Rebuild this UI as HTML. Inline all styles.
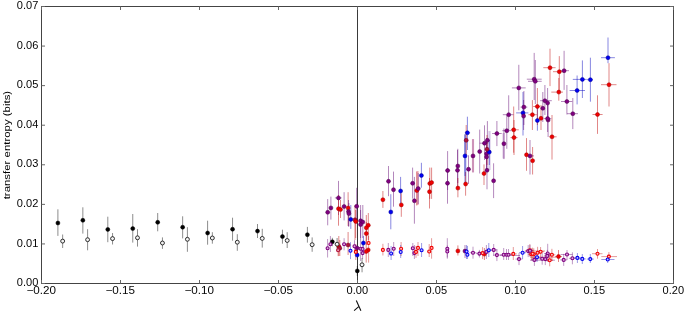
<!DOCTYPE html>
<html><head><meta charset="utf-8"><style>
html,body{margin:0;padding:0;background:#fff;}
body{width:685px;height:313px;overflow:hidden;}
svg{display:block;will-change:transform;}
text{font-family:"Liberation Sans",sans-serif;}
</style></head><body>
<svg width="685" height="313" viewBox="0 0 685 313">
<rect x="0" y="0" width="685" height="313" fill="#fff"/>
<line x1="357.5" y1="6.5" x2="357.5" y2="283.5" stroke="#3a3a3a" stroke-width="1"/>
<line x1="465.3" y1="134.0" x2="465.3" y2="183.0" stroke="#b0b0e8" stroke-width="2.2"/>
<line x1="473.0" y1="139.0" x2="473.0" y2="172.4" stroke="#f0c0d0" stroke-width="2.2"/>
<line x1="489.5" y1="131.0" x2="489.5" y2="170.0" stroke="#d8c8e8" stroke-width="2.2"/>
<line x1="503.6" y1="133.0" x2="503.6" y2="158.5" stroke="#d8c0e0" stroke-width="2.2"/>
<line x1="417.6" y1="171.0" x2="417.6" y2="205.0" stroke="#f0b8c0" stroke-width="2.2"/>
<line x1="530" y1="257.2" x2="556" y2="257.2" stroke="#c00000" stroke-opacity="0.4"/>
<line x1="530" y1="260.2" x2="555" y2="260.2" stroke="#600070" stroke-opacity="0.4"/>
<line x1="525" y1="251.0" x2="545" y2="251.0" stroke="#c00000" stroke-opacity="0.4"/>
<line x1="500" y1="255.5" x2="520" y2="255.5" stroke="#600070" stroke-opacity="0.4"/>
<g stroke-width="1" opacity="1" style="mix-blend-mode:normal">
<line x1="57.9" y1="209.3" x2="57.9" y2="235.9" stroke="#000000" stroke-opacity="0.45"/>
<line x1="82.85" y1="207.3" x2="82.85" y2="233.6" stroke="#000000" stroke-opacity="0.45"/>
<line x1="107.8" y1="216.7" x2="107.8" y2="242.2" stroke="#000000" stroke-opacity="0.45"/>
<line x1="132.75" y1="214" x2="132.75" y2="242.6" stroke="#000000" stroke-opacity="0.45"/>
<line x1="157.7" y1="213" x2="157.7" y2="231.3" stroke="#000000" stroke-opacity="0.45"/>
<line x1="182.65" y1="216.3" x2="182.65" y2="238.4" stroke="#000000" stroke-opacity="0.45"/>
<line x1="207.6" y1="220.7" x2="207.6" y2="244.7" stroke="#000000" stroke-opacity="0.45"/>
<line x1="232.55" y1="217.7" x2="232.55" y2="240.7" stroke="#000000" stroke-opacity="0.45"/>
<line x1="257.5" y1="224" x2="257.5" y2="238" stroke="#000000" stroke-opacity="0.45"/>
<line x1="282.45" y1="229.7" x2="282.45" y2="243.7" stroke="#000000" stroke-opacity="0.45"/>
<line x1="307.4" y1="226.9" x2="307.4" y2="242.6" stroke="#000000" stroke-opacity="0.45"/>
<line x1="332.35" y1="237.8" x2="332.35" y2="246.2" stroke="#000000" stroke-opacity="0.45"/>
<line x1="357.3" y1="266" x2="357.3" y2="276" stroke="#000000" stroke-opacity="0.45"/>
<line x1="327.7" y1="199.1" x2="327.7" y2="225.3" stroke="#600070" stroke-opacity="0.47"/>
<line x1="330.9" y1="196.6" x2="330.9" y2="219.6" stroke="#600070" stroke-opacity="0.47"/>
<line x1="338.5" y1="180.9" x2="338.5" y2="215" stroke="#600070" stroke-opacity="0.47"/>
<line x1="334.9" y1="197.9" x2="341.7" y2="197.9" stroke="#600070" stroke-opacity="0.47"/>
<line x1="338.5" y1="195" x2="338.5" y2="225.7" stroke="#c00000" stroke-opacity="0.47"/>
<line x1="340.5" y1="200" x2="340.5" y2="218" stroke="#c00000" stroke-opacity="0.47"/>
<line x1="344.1" y1="192.2" x2="344.1" y2="220.4" stroke="#600070" stroke-opacity="0.47"/>
<line x1="348.1" y1="192.2" x2="348.1" y2="226" stroke="#c00000" stroke-opacity="0.47"/>
<line x1="348.5" y1="200" x2="348.5" y2="226.5" stroke="#600070" stroke-opacity="0.47"/>
<line x1="348.9" y1="203" x2="348.9" y2="226.5" stroke="#600070" stroke-opacity="0.47"/>
<line x1="350.8" y1="205" x2="350.8" y2="228.9" stroke="#0000c0" stroke-opacity="0.47"/>
<line x1="355" y1="205" x2="355" y2="240" stroke="#c00000" stroke-opacity="0.47"/>
<line x1="355.7" y1="210" x2="355.7" y2="238" stroke="#c00000" stroke-opacity="0.47"/>
<line x1="356.7" y1="187.8" x2="356.7" y2="224" stroke="#600070" stroke-opacity="0.47"/>
<line x1="360.6" y1="205" x2="360.6" y2="238" stroke="#600070" stroke-opacity="0.47"/>
<line x1="362.8" y1="205" x2="362.8" y2="238" stroke="#600070" stroke-opacity="0.47"/>
<line x1="360.6" y1="210" x2="360.6" y2="240" stroke="#600070" stroke-opacity="0.47"/>
<line x1="368.3" y1="213" x2="368.3" y2="240" stroke="#c00000" stroke-opacity="0.47"/>
<line x1="366.3" y1="215" x2="366.3" y2="240" stroke="#c00000" stroke-opacity="0.47"/>
<line x1="366.3" y1="222" x2="366.3" y2="245" stroke="#c00000" stroke-opacity="0.47"/>
<line x1="382.9" y1="191" x2="382.9" y2="207.9" stroke="#c00000" stroke-opacity="0.47"/>
<line x1="388.5" y1="166" x2="388.5" y2="196.2" stroke="#600070" stroke-opacity="0.47"/>
<line x1="393.5" y1="171.6" x2="393.5" y2="206.7" stroke="#600070" stroke-opacity="0.47"/>
<line x1="400.6" y1="176.9" x2="400.6" y2="204.3" stroke="#0000c0" stroke-opacity="0.47"/>
<line x1="401.3" y1="193.3" x2="401.3" y2="216.8" stroke="#c00000" stroke-opacity="0.47"/>
<line x1="390.8" y1="194.2" x2="390.8" y2="229.3" stroke="#0000c0" stroke-opacity="0.47"/>
<line x1="412.6" y1="167.6" x2="412.6" y2="198.7" stroke="#600070" stroke-opacity="0.47"/>
<line x1="414.4" y1="176.9" x2="414.4" y2="223.7" stroke="#600070" stroke-opacity="0.47"/>
<line x1="416.8" y1="171.6" x2="416.8" y2="205.5" stroke="#c00000" stroke-opacity="0.47"/>
<line x1="418.2" y1="173" x2="418.2" y2="204" stroke="#600070" stroke-opacity="0.47"/>
<line x1="421.4" y1="162.8" x2="421.4" y2="187.7" stroke="#0000c0" stroke-opacity="0.47"/>
<line x1="429.8" y1="167.6" x2="429.8" y2="198.9" stroke="#c00000" stroke-opacity="0.47"/>
<line x1="431.6" y1="167.6" x2="431.6" y2="198.9" stroke="#c00000" stroke-opacity="0.47"/>
<line x1="429.5" y1="178" x2="429.5" y2="208.5" stroke="#c00000" stroke-opacity="0.47"/>
<line x1="447.6" y1="151.1" x2="447.6" y2="190" stroke="#600070" stroke-opacity="0.47"/>
<line x1="445.6" y1="170.5" x2="450.1" y2="170.5" stroke="#600070" stroke-opacity="0.47"/>
<line x1="447.5" y1="168" x2="447.5" y2="203.7" stroke="#600070" stroke-opacity="0.47"/>
<line x1="457.8" y1="148.8" x2="457.8" y2="183" stroke="#600070" stroke-opacity="0.47"/>
<line x1="457.5" y1="150" x2="457.5" y2="188" stroke="#600070" stroke-opacity="0.47"/>
<line x1="457.9" y1="178" x2="457.9" y2="197.3" stroke="#c00000" stroke-opacity="0.47"/>
<line x1="465.6" y1="172" x2="465.6" y2="195.7" stroke="#c00000" stroke-opacity="0.47"/>
<line x1="465" y1="134.9" x2="465" y2="176" stroke="#0000c0" stroke-opacity="0.47"/>
<line x1="468.5" y1="155.3" x2="468.5" y2="184" stroke="#600070" stroke-opacity="0.47"/>
<line x1="473" y1="139.2" x2="473" y2="172.4" stroke="#600070" stroke-opacity="0.47"/>
<line x1="479.7" y1="129.6" x2="479.7" y2="173.5" stroke="#600070" stroke-opacity="0.47"/>
<line x1="484" y1="164.4" x2="484" y2="185" stroke="#c00000" stroke-opacity="0.47"/>
<line x1="486.6" y1="138" x2="486.6" y2="170" stroke="#600070" stroke-opacity="0.47"/>
<line x1="486.6" y1="140" x2="486.6" y2="172" stroke="#600070" stroke-opacity="0.47"/>
<line x1="489.3" y1="140" x2="489.3" y2="165" stroke="#0000c0" stroke-opacity="0.47"/>
<line x1="487" y1="150" x2="487" y2="189.3" stroke="#600070" stroke-opacity="0.47"/>
<line x1="493.6" y1="163.3" x2="493.6" y2="198.1" stroke="#600070" stroke-opacity="0.47"/>
<line x1="467.4" y1="116.7" x2="467.4" y2="150" stroke="#0000c0" stroke-opacity="0.47"/>
<line x1="464.8" y1="132.8" x2="470.1" y2="132.8" stroke="#0000c0" stroke-opacity="0.47"/>
<line x1="466.2" y1="125" x2="466.2" y2="155" stroke="#c00000" stroke-opacity="0.47"/>
<line x1="484.5" y1="125.3" x2="484.5" y2="160" stroke="#600070" stroke-opacity="0.47"/>
<line x1="479.7" y1="143.2" x2="488.2" y2="143.2" stroke="#600070" stroke-opacity="0.47"/>
<line x1="487.4" y1="121.1" x2="487.4" y2="158" stroke="#600070" stroke-opacity="0.47"/>
<line x1="487" y1="135" x2="487" y2="165" stroke="#c00000" stroke-opacity="0.47"/>
<line x1="496.9" y1="121" x2="496.9" y2="146.1" stroke="#600070" stroke-opacity="0.47"/>
<line x1="492.1" y1="133.5" x2="501.7" y2="133.5" stroke="#600070" stroke-opacity="0.47"/>
<line x1="506.8" y1="115" x2="506.8" y2="148.8" stroke="#600070" stroke-opacity="0.47"/>
<line x1="502.3" y1="130.7" x2="511.3" y2="130.7" stroke="#600070" stroke-opacity="0.47"/>
<line x1="503.9" y1="128.5" x2="503.9" y2="159.1" stroke="#600070" stroke-opacity="0.47"/>
<line x1="513.7" y1="106.5" x2="513.7" y2="152.7" stroke="#c00000" stroke-opacity="0.47"/>
<line x1="510.8" y1="129.8" x2="518.8" y2="129.8" stroke="#c00000" stroke-opacity="0.47"/>
<line x1="514" y1="120" x2="514" y2="155" stroke="#c00000" stroke-opacity="0.47"/>
<line x1="510.5" y1="137.6" x2="517.5" y2="137.6" stroke="#c00000" stroke-opacity="0.47"/>
<line x1="537.4" y1="105" x2="537.4" y2="130.7" stroke="#0000c0" stroke-opacity="0.47"/>
<line x1="548.1" y1="105" x2="548.1" y2="137" stroke="#600070" stroke-opacity="0.47"/>
<line x1="552" y1="115" x2="552" y2="159.6" stroke="#c00000" stroke-opacity="0.47"/>
<line x1="549.2" y1="136.8" x2="556.6" y2="136.8" stroke="#c00000" stroke-opacity="0.47"/>
<line x1="526.5" y1="138.1" x2="526.5" y2="170.8" stroke="#c00000" stroke-opacity="0.47"/>
<line x1="530" y1="140" x2="530" y2="174.5" stroke="#600070" stroke-opacity="0.47"/>
<line x1="528" y1="155.9" x2="534" y2="155.9" stroke="#600070" stroke-opacity="0.47"/>
<line x1="532.6" y1="147" x2="532.6" y2="174.5" stroke="#c00000" stroke-opacity="0.47"/>
<line x1="508.7" y1="95.3" x2="508.7" y2="130" stroke="#600070" stroke-opacity="0.47"/>
<line x1="502.8" y1="114.7" x2="513.5" y2="114.7" stroke="#600070" stroke-opacity="0.47"/>
<line x1="523.9" y1="91" x2="523.9" y2="125" stroke="#600070" stroke-opacity="0.47"/>
<line x1="520.5" y1="107.1" x2="527.3" y2="107.1" stroke="#600070" stroke-opacity="0.47"/>
<line x1="523" y1="92" x2="523" y2="135.5" stroke="#0000c0" stroke-opacity="0.47"/>
<line x1="516.1" y1="112.9" x2="528.4" y2="112.9" stroke="#0000c0" stroke-opacity="0.47"/>
<line x1="523.6" y1="100" x2="523.6" y2="130" stroke="#600070" stroke-opacity="0.47"/>
<line x1="532.4" y1="100.1" x2="532.4" y2="130" stroke="#c00000" stroke-opacity="0.47"/>
<line x1="528.4" y1="114.7" x2="536.9" y2="114.7" stroke="#c00000" stroke-opacity="0.47"/>
<line x1="537.4" y1="88" x2="537.4" y2="125" stroke="#c00000" stroke-opacity="0.47"/>
<line x1="533.2" y1="106.5" x2="540.1" y2="106.5" stroke="#c00000" stroke-opacity="0.47"/>
<line x1="542.8" y1="92" x2="542.8" y2="122" stroke="#600070" stroke-opacity="0.47"/>
<line x1="541" y1="105" x2="541" y2="130" stroke="#c00000" stroke-opacity="0.47"/>
<line x1="544.9" y1="85" x2="544.9" y2="115" stroke="#600070" stroke-opacity="0.47"/>
<line x1="540.1" y1="100.7" x2="551.8" y2="100.7" stroke="#600070" stroke-opacity="0.47"/>
<line x1="547.6" y1="88" x2="547.6" y2="118" stroke="#600070" stroke-opacity="0.47"/>
<line x1="547.6" y1="105" x2="547.6" y2="132" stroke="#600070" stroke-opacity="0.47"/>
<line x1="543.8" y1="118.6" x2="551.3" y2="118.6" stroke="#600070" stroke-opacity="0.47"/>
<line x1="558.8" y1="78" x2="558.8" y2="100.7" stroke="#c00000" stroke-opacity="0.47"/>
<line x1="551.3" y1="92.1" x2="563" y2="92.1" stroke="#c00000" stroke-opacity="0.47"/>
<line x1="518.8" y1="64.8" x2="518.8" y2="110.3" stroke="#600070" stroke-opacity="0.47"/>
<line x1="511.9" y1="87.9" x2="525.7" y2="87.9" stroke="#600070" stroke-opacity="0.47"/>
<line x1="534.2" y1="52.9" x2="534.2" y2="100" stroke="#600070" stroke-opacity="0.47"/>
<line x1="526.8" y1="79.2" x2="541.7" y2="79.2" stroke="#600070" stroke-opacity="0.47"/>
<line x1="535.3" y1="60" x2="535.3" y2="104" stroke="#600070" stroke-opacity="0.47"/>
<line x1="528" y1="81.3" x2="541.7" y2="81.3" stroke="#600070" stroke-opacity="0.47"/>
<line x1="550" y1="48.7" x2="550" y2="86.1" stroke="#c00000" stroke-opacity="0.47"/>
<line x1="543.3" y1="67.7" x2="555.6" y2="67.7" stroke="#c00000" stroke-opacity="0.47"/>
<line x1="559.3" y1="56.1" x2="559.3" y2="92" stroke="#c00000" stroke-opacity="0.47"/>
<line x1="553" y1="71.7" x2="566" y2="71.7" stroke="#c00000" stroke-opacity="0.47"/>
<line x1="564.1" y1="50.8" x2="564.1" y2="89.9" stroke="#600070" stroke-opacity="0.47"/>
<line x1="560" y1="70.7" x2="569" y2="70.7" stroke="#600070" stroke-opacity="0.47"/>
<line x1="566.9" y1="85" x2="566.9" y2="114.5" stroke="#600070" stroke-opacity="0.47"/>
<line x1="561" y1="101.5" x2="572.3" y2="101.5" stroke="#600070" stroke-opacity="0.47"/>
<line x1="572.8" y1="98" x2="572.8" y2="129.1" stroke="#600070" stroke-opacity="0.47"/>
<line x1="567" y1="113.7" x2="578" y2="113.7" stroke="#600070" stroke-opacity="0.47"/>
<line x1="577.1" y1="75.5" x2="577.1" y2="104.4" stroke="#0000c0" stroke-opacity="0.47"/>
<line x1="569.6" y1="90.5" x2="585" y2="90.5" stroke="#0000c0" stroke-opacity="0.47"/>
<line x1="582.4" y1="60.4" x2="582.4" y2="98" stroke="#0000c0" stroke-opacity="0.47"/>
<line x1="572.8" y1="79.4" x2="586.7" y2="79.4" stroke="#0000c0" stroke-opacity="0.47"/>
<line x1="590.4" y1="57.7" x2="590.4" y2="101.7" stroke="#0000c0" stroke-opacity="0.47"/>
<line x1="587" y1="79.7" x2="593" y2="79.7" stroke="#0000c0" stroke-opacity="0.47"/>
<line x1="597.5" y1="95.3" x2="597.5" y2="133.9" stroke="#c00000" stroke-opacity="0.47"/>
<line x1="592.5" y1="114.5" x2="602.6" y2="114.5" stroke="#c00000" stroke-opacity="0.47"/>
<line x1="608" y1="37.5" x2="608" y2="63.2" stroke="#0000c0" stroke-opacity="0.47"/>
<line x1="601" y1="57.7" x2="614.9" y2="57.7" stroke="#0000c0" stroke-opacity="0.47"/>
<line x1="609" y1="63.2" x2="609" y2="106.5" stroke="#c00000" stroke-opacity="0.47"/>
<line x1="601" y1="84.7" x2="616.5" y2="84.7" stroke="#c00000" stroke-opacity="0.47"/>
<line x1="338.8" y1="236" x2="338.8" y2="256" stroke="#c00000" stroke-opacity="0.47"/>
<line x1="339.8" y1="240" x2="339.8" y2="256" stroke="#c00000" stroke-opacity="0.47"/>
<line x1="348.1" y1="232" x2="348.1" y2="255" stroke="#c00000" stroke-opacity="0.47"/>
<line x1="363.4" y1="236" x2="363.4" y2="252" stroke="#0000c0" stroke-opacity="0.47"/>
<line x1="366.2" y1="240" x2="366.2" y2="262.6" stroke="#c00000" stroke-opacity="0.47"/>
<line x1="457.9" y1="245.4" x2="457.9" y2="255.5" stroke="#c00000" stroke-opacity="0.47"/>
<line x1="465" y1="245" x2="465" y2="258" stroke="#600070" stroke-opacity="0.47"/>
<line x1="484.4" y1="248" x2="484.4" y2="260" stroke="#c00000" stroke-opacity="0.47"/>
<line x1="558.5" y1="250" x2="558.5" y2="262" stroke="#c00000" stroke-opacity="0.47"/>
<line x1="555" y1="256.6" x2="562" y2="256.6" stroke="#c00000" stroke-opacity="0.47"/>
<line x1="62.65" y1="234.5" x2="62.65" y2="248" stroke="#000000" stroke-opacity="0.45"/>
<line x1="87.6" y1="229.2" x2="87.6" y2="250.3" stroke="#000000" stroke-opacity="0.45"/>
<line x1="112.55" y1="233" x2="112.55" y2="244.5" stroke="#000000" stroke-opacity="0.45"/>
<line x1="137.5" y1="229.2" x2="137.5" y2="246.6" stroke="#000000" stroke-opacity="0.45"/>
<line x1="162.45" y1="237.4" x2="162.45" y2="248.9" stroke="#000000" stroke-opacity="0.45"/>
<line x1="187.4" y1="227.2" x2="187.4" y2="251.8" stroke="#000000" stroke-opacity="0.45"/>
<line x1="212.35" y1="232.2" x2="212.35" y2="243.7" stroke="#000000" stroke-opacity="0.45"/>
<line x1="237.3" y1="234.2" x2="237.3" y2="250.8" stroke="#000000" stroke-opacity="0.45"/>
<line x1="262.25" y1="228.8" x2="262.25" y2="247.6" stroke="#000000" stroke-opacity="0.45"/>
<line x1="287.2" y1="232.2" x2="287.2" y2="248" stroke="#000000" stroke-opacity="0.45"/>
<line x1="312.15" y1="237.4" x2="312.15" y2="251.8" stroke="#000000" stroke-opacity="0.45"/>
<line x1="337.1" y1="238" x2="337.1" y2="250" stroke="#000000" stroke-opacity="0.45"/>
<line x1="362.05" y1="258" x2="362.05" y2="272.3" stroke="#000000" stroke-opacity="0.45"/>
<line x1="327.6" y1="239" x2="327.6" y2="257.5" stroke="#600070" stroke-opacity="0.4"/>
<line x1="330.4" y1="236" x2="330.4" y2="252" stroke="#600070" stroke-opacity="0.4"/>
<line x1="338.1" y1="244.2" x2="338.1" y2="256.2" stroke="#c00000" stroke-opacity="0.4"/>
<line x1="344.1" y1="238.2" x2="344.1" y2="250.3" stroke="#600070" stroke-opacity="0.4"/>
<line x1="350.5" y1="242.2" x2="350.5" y2="259.1" stroke="#0000c0" stroke-opacity="0.4"/>
<line x1="354.5" y1="240.2" x2="354.5" y2="252.2" stroke="#600070" stroke-opacity="0.4"/>
<line x1="355.8" y1="244" x2="355.8" y2="260" stroke="#c00000" stroke-opacity="0.4"/>
<line x1="360.6" y1="240" x2="360.6" y2="261" stroke="#600070" stroke-opacity="0.4"/>
<line x1="362.6" y1="243" x2="362.6" y2="255" stroke="#600070" stroke-opacity="0.4"/>
<line x1="362.6" y1="247.1" x2="362.6" y2="259.1" stroke="#600070" stroke-opacity="0.4"/>
<line x1="368.6" y1="236" x2="368.6" y2="262.6" stroke="#c00000" stroke-opacity="0.4"/>
<line x1="382.9" y1="243.8" x2="382.9" y2="255.5" stroke="#c00000" stroke-opacity="0.4"/>
<line x1="388.3" y1="243" x2="388.3" y2="257" stroke="#600070" stroke-opacity="0.4"/>
<line x1="391.1" y1="246" x2="391.1" y2="260" stroke="#0000c0" stroke-opacity="0.4"/>
<line x1="393.7" y1="242" x2="393.7" y2="256" stroke="#600070" stroke-opacity="0.4"/>
<line x1="401.1" y1="242" x2="401.1" y2="256" stroke="#c00000" stroke-opacity="0.4"/>
<line x1="400.7" y1="245" x2="400.7" y2="258" stroke="#0000c0" stroke-opacity="0.4"/>
<line x1="412.8" y1="243" x2="412.8" y2="256" stroke="#600070" stroke-opacity="0.4"/>
<line x1="414.4" y1="245" x2="414.4" y2="259" stroke="#600070" stroke-opacity="0.4"/>
<line x1="416" y1="245.9" x2="416" y2="257.9" stroke="#c00000" stroke-opacity="0.4"/>
<line x1="418" y1="242" x2="418" y2="256" stroke="#c00000" stroke-opacity="0.4"/>
<line x1="421.6" y1="243" x2="421.6" y2="257" stroke="#0000c0" stroke-opacity="0.4"/>
<line x1="429.2" y1="244" x2="429.2" y2="257" stroke="#c00000" stroke-opacity="0.4"/>
<line x1="431.6" y1="238.2" x2="431.6" y2="258.7" stroke="#c00000" stroke-opacity="0.4"/>
<line x1="447.3" y1="238.2" x2="447.3" y2="258.7" stroke="#600070" stroke-opacity="0.4"/>
<line x1="447.3" y1="245.5" x2="447.3" y2="257.5" stroke="#600070" stroke-opacity="0.4"/>
<line x1="466.6" y1="245" x2="466.6" y2="259" stroke="#0000c0" stroke-opacity="0.4"/>
<line x1="467.4" y1="246" x2="467.4" y2="259" stroke="#0000c0" stroke-opacity="0.4"/>
<line x1="473" y1="246.7" x2="473" y2="258.7" stroke="#600070" stroke-opacity="0.4"/>
<line x1="469.5" y1="252.7" x2="476.5" y2="252.7" stroke="#600070" stroke-opacity="0.4"/>
<line x1="479.4" y1="249.9" x2="479.4" y2="257.5" stroke="#600070" stroke-opacity="0.4"/>
<line x1="475.9" y1="253.6" x2="482.9" y2="253.6" stroke="#600070" stroke-opacity="0.4"/>
<line x1="482.6" y1="247.1" x2="482.6" y2="259.1" stroke="#c00000" stroke-opacity="0.4"/>
<line x1="479.1" y1="253.1" x2="486.1" y2="253.1" stroke="#c00000" stroke-opacity="0.4"/>
<line x1="486.4" y1="245" x2="486.4" y2="259" stroke="#600070" stroke-opacity="0.4"/>
<line x1="482.9" y1="251.9" x2="489.9" y2="251.9" stroke="#600070" stroke-opacity="0.4"/>
<line x1="488.8" y1="243" x2="488.8" y2="257" stroke="#0000c0" stroke-opacity="0.4"/>
<line x1="485.3" y1="250.3" x2="492.3" y2="250.3" stroke="#0000c0" stroke-opacity="0.4"/>
<line x1="493.7" y1="244" x2="493.7" y2="256" stroke="#600070" stroke-opacity="0.4"/>
<line x1="490.2" y1="249.9" x2="497.2" y2="249.9" stroke="#600070" stroke-opacity="0.4"/>
<line x1="496.9" y1="249.1" x2="496.9" y2="261.1" stroke="#600070" stroke-opacity="0.4"/>
<line x1="493.4" y1="255.1" x2="500.4" y2="255.1" stroke="#600070" stroke-opacity="0.4"/>
<line x1="503.7" y1="248" x2="503.7" y2="260" stroke="#600070" stroke-opacity="0.4"/>
<line x1="500.2" y1="254.7" x2="507.2" y2="254.7" stroke="#600070" stroke-opacity="0.4"/>
<line x1="506.5" y1="249" x2="506.5" y2="260" stroke="#600070" stroke-opacity="0.4"/>
<line x1="503" y1="254.7" x2="510" y2="254.7" stroke="#600070" stroke-opacity="0.4"/>
<line x1="508.5" y1="249" x2="508.5" y2="260" stroke="#600070" stroke-opacity="0.4"/>
<line x1="505" y1="254.7" x2="512" y2="254.7" stroke="#600070" stroke-opacity="0.4"/>
<line x1="513.3" y1="247" x2="513.3" y2="260" stroke="#c00000" stroke-opacity="0.4"/>
<line x1="509.8" y1="253.9" x2="516.8" y2="253.9" stroke="#c00000" stroke-opacity="0.4"/>
<line x1="519" y1="253.1" x2="519" y2="265.1" stroke="#600070" stroke-opacity="0.4"/>
<line x1="515.5" y1="259.1" x2="522.5" y2="259.1" stroke="#600070" stroke-opacity="0.4"/>
<line x1="522.6" y1="246" x2="522.6" y2="259" stroke="#0000c0" stroke-opacity="0.4"/>
<line x1="519" y1="252.7" x2="526" y2="252.7" stroke="#0000c0" stroke-opacity="0.4"/>
<line x1="528.2" y1="245.1" x2="528.2" y2="257.1" stroke="#600070" stroke-opacity="0.4"/>
<line x1="524.7" y1="251.1" x2="531.7" y2="251.1" stroke="#600070" stroke-opacity="0.4"/>
<line x1="529.8" y1="244.3" x2="529.8" y2="256.3" stroke="#c00000" stroke-opacity="0.4"/>
<line x1="526.3" y1="250.3" x2="533.3" y2="250.3" stroke="#c00000" stroke-opacity="0.4"/>
<line x1="531.4" y1="248.3" x2="531.4" y2="260.3" stroke="#c00000" stroke-opacity="0.4"/>
<line x1="527.9" y1="254.3" x2="534.9" y2="254.3" stroke="#c00000" stroke-opacity="0.4"/>
<line x1="533.8" y1="248.3" x2="533.8" y2="260.3" stroke="#c00000" stroke-opacity="0.4"/>
<line x1="530.3" y1="254.3" x2="537.3" y2="254.3" stroke="#c00000" stroke-opacity="0.4"/>
<line x1="530" y1="244.7" x2="530" y2="256.7" stroke="#600070" stroke-opacity="0.4"/>
<line x1="526.5" y1="250.7" x2="533.5" y2="250.7" stroke="#600070" stroke-opacity="0.4"/>
<line x1="532.6" y1="247.7" x2="532.6" y2="259.7" stroke="#c00000" stroke-opacity="0.4"/>
<line x1="529.1" y1="253.7" x2="536.1" y2="253.7" stroke="#c00000" stroke-opacity="0.4"/>
<line x1="537.6" y1="246.8" x2="537.6" y2="258.8" stroke="#c00000" stroke-opacity="0.4"/>
<line x1="534.1" y1="252.8" x2="541.1" y2="252.8" stroke="#c00000" stroke-opacity="0.4"/>
<line x1="540.6" y1="247" x2="540.6" y2="258" stroke="#c00000" stroke-opacity="0.4"/>
<line x1="537.1" y1="251.7" x2="544.1" y2="251.7" stroke="#c00000" stroke-opacity="0.4"/>
<line x1="537" y1="252" x2="537" y2="262" stroke="#0000c0" stroke-opacity="0.4"/>
<line x1="535" y1="257.3" x2="540.5" y2="257.3" stroke="#0000c0" stroke-opacity="0.4"/>
<line x1="534.4" y1="253.9" x2="534.4" y2="265.9" stroke="#600070" stroke-opacity="0.4"/>
<line x1="530.9" y1="259.9" x2="537.9" y2="259.9" stroke="#600070" stroke-opacity="0.4"/>
<line x1="542.2" y1="252.7" x2="542.2" y2="264.7" stroke="#600070" stroke-opacity="0.4"/>
<line x1="538.7" y1="258.7" x2="545.7" y2="258.7" stroke="#600070" stroke-opacity="0.4"/>
<line x1="545.3" y1="253.1" x2="545.3" y2="265.1" stroke="#600070" stroke-opacity="0.4"/>
<line x1="541.8" y1="259.1" x2="548.8" y2="259.1" stroke="#600070" stroke-opacity="0.4"/>
<line x1="547.7" y1="243.8" x2="547.7" y2="258" stroke="#600070" stroke-opacity="0.4"/>
<line x1="544.2" y1="253.5" x2="551.2" y2="253.5" stroke="#600070" stroke-opacity="0.4"/>
<line x1="547.3" y1="249.9" x2="547.3" y2="261.9" stroke="#600070" stroke-opacity="0.4"/>
<line x1="543.8" y1="255.9" x2="550.8" y2="255.9" stroke="#600070" stroke-opacity="0.4"/>
<line x1="551.9" y1="248.8" x2="551.9" y2="260.8" stroke="#c00000" stroke-opacity="0.4"/>
<line x1="548.4" y1="254.8" x2="555.4" y2="254.8" stroke="#c00000" stroke-opacity="0.4"/>
<line x1="549.7" y1="254.3" x2="549.7" y2="266.3" stroke="#c00000" stroke-opacity="0.4"/>
<line x1="546.2" y1="260.3" x2="553.2" y2="260.3" stroke="#c00000" stroke-opacity="0.4"/>
<line x1="567" y1="250" x2="567" y2="260" stroke="#600070" stroke-opacity="0.4"/>
<line x1="560.5" y1="254.5" x2="572.5" y2="254.5" stroke="#600070" stroke-opacity="0.4"/>
<line x1="563.7" y1="253.9" x2="563.7" y2="265.9" stroke="#600070" stroke-opacity="0.4"/>
<line x1="560.2" y1="259.9" x2="567.2" y2="259.9" stroke="#600070" stroke-opacity="0.4"/>
<line x1="572.4" y1="252.3" x2="572.4" y2="264.3" stroke="#600070" stroke-opacity="0.4"/>
<line x1="568.9" y1="258.3" x2="575.9" y2="258.3" stroke="#600070" stroke-opacity="0.4"/>
<line x1="577.4" y1="253" x2="577.4" y2="263" stroke="#0000c0" stroke-opacity="0.4"/>
<line x1="573.9" y1="257.9" x2="580.9" y2="257.9" stroke="#0000c0" stroke-opacity="0.4"/>
<line x1="582.3" y1="254" x2="582.3" y2="264" stroke="#0000c0" stroke-opacity="0.4"/>
<line x1="578.8" y1="258.9" x2="585.8" y2="258.9" stroke="#0000c0" stroke-opacity="0.4"/>
<line x1="590.3" y1="254" x2="590.3" y2="263" stroke="#0000c0" stroke-opacity="0.4"/>
<line x1="586.8" y1="259.1" x2="593.8" y2="259.1" stroke="#0000c0" stroke-opacity="0.4"/>
<line x1="597.5" y1="249" x2="597.5" y2="258.7" stroke="#c00000" stroke-opacity="0.4"/>
<line x1="592" y1="253.7" x2="602.5" y2="253.7" stroke="#c00000" stroke-opacity="0.4"/>
<line x1="608.9" y1="252" x2="608.9" y2="261" stroke="#c00000" stroke-opacity="0.4"/>
<line x1="601.3" y1="256.6" x2="617" y2="256.6" stroke="#c00000" stroke-opacity="0.4"/>
<line x1="607.7" y1="255" x2="607.7" y2="263" stroke="#0000c0" stroke-opacity="0.4"/>
<line x1="601.3" y1="259.5" x2="614.5" y2="259.5" stroke="#0000c0" stroke-opacity="0.4"/>
</g>
<g>
<circle cx="57.9" cy="223" r="2" fill="#000000" stroke="#000000" stroke-width="0.5"/>
<circle cx="82.85" cy="220.3" r="2" fill="#000000" stroke="#000000" stroke-width="0.5"/>
<circle cx="107.8" cy="229.4" r="2" fill="#000000" stroke="#000000" stroke-width="0.5"/>
<circle cx="132.75" cy="228.6" r="2" fill="#000000" stroke="#000000" stroke-width="0.5"/>
<circle cx="157.7" cy="222.3" r="2" fill="#000000" stroke="#000000" stroke-width="0.5"/>
<circle cx="182.65" cy="227.2" r="2" fill="#000000" stroke="#000000" stroke-width="0.5"/>
<circle cx="207.6" cy="233" r="2" fill="#000000" stroke="#000000" stroke-width="0.5"/>
<circle cx="232.55" cy="229.2" r="2" fill="#000000" stroke="#000000" stroke-width="0.5"/>
<circle cx="257.5" cy="231.1" r="2" fill="#000000" stroke="#000000" stroke-width="0.5"/>
<circle cx="282.45" cy="236.6" r="2" fill="#000000" stroke="#000000" stroke-width="0.5"/>
<circle cx="307.4" cy="234.7" r="2" fill="#000000" stroke="#000000" stroke-width="0.5"/>
<circle cx="332.35" cy="241.8" r="2" fill="#000000" stroke="#000000" stroke-width="0.5"/>
<circle cx="357.3" cy="270.9" r="2" fill="#000000" stroke="#000000" stroke-width="0.5"/>
<circle cx="327.7" cy="212.3" r="2" fill="#800080" stroke="#4a004a" stroke-width="0.5"/>
<circle cx="330.9" cy="207.9" r="2" fill="#800080" stroke="#4a004a" stroke-width="0.5"/>
<circle cx="338.5" cy="197.9" r="2" fill="#800080" stroke="#4a004a" stroke-width="0.5"/>
<circle cx="338.5" cy="208.7" r="2" fill="#f00000" stroke="#a00000" stroke-width="0.5"/>
<circle cx="340.5" cy="209.6" r="2" fill="#f00000" stroke="#a00000" stroke-width="0.5"/>
<circle cx="344.1" cy="206.5" r="2" fill="#800080" stroke="#4a004a" stroke-width="0.5"/>
<circle cx="348.1" cy="208.1" r="2" fill="#f00000" stroke="#a00000" stroke-width="0.5"/>
<circle cx="348.5" cy="211.6" r="2" fill="#800080" stroke="#4a004a" stroke-width="0.5"/>
<circle cx="348.9" cy="213.6" r="2" fill="#800080" stroke="#4a004a" stroke-width="0.5"/>
<circle cx="350.8" cy="219.4" r="2" fill="#0000f0" stroke="#000090" stroke-width="0.5"/>
<circle cx="355" cy="219.8" r="2" fill="#b0103a" stroke="#600020" stroke-width="0.5"/>
<circle cx="355.7" cy="221.4" r="2" fill="#f00000" stroke="#a00000" stroke-width="0.5"/>
<circle cx="356.7" cy="206.3" r="2" fill="#800080" stroke="#4a004a" stroke-width="0.5"/>
<circle cx="360.6" cy="220.8" r="2" fill="#800080" stroke="#4a004a" stroke-width="0.5"/>
<circle cx="362.8" cy="222.1" r="2" fill="#800080" stroke="#4a004a" stroke-width="0.5"/>
<circle cx="360.6" cy="224.6" r="2" fill="#800080" stroke="#4a004a" stroke-width="0.5"/>
<circle cx="368.3" cy="225.3" r="2" fill="#f00000" stroke="#a00000" stroke-width="0.5"/>
<circle cx="366.3" cy="227.8" r="2" fill="#f00000" stroke="#a00000" stroke-width="0.5"/>
<circle cx="366.3" cy="233.6" r="2" fill="#f00000" stroke="#a00000" stroke-width="0.5"/>
<circle cx="382.9" cy="199.7" r="2" fill="#f00000" stroke="#a00000" stroke-width="0.5"/>
<circle cx="388.5" cy="181.3" r="2" fill="#800080" stroke="#4a004a" stroke-width="0.5"/>
<circle cx="393.5" cy="189.7" r="2" fill="#800080" stroke="#4a004a" stroke-width="0.5"/>
<circle cx="400.6" cy="191" r="2" fill="#0000f0" stroke="#000090" stroke-width="0.5"/>
<circle cx="401.3" cy="204.9" r="2" fill="#f00000" stroke="#a00000" stroke-width="0.5"/>
<circle cx="390.8" cy="212" r="2" fill="#0000f0" stroke="#000090" stroke-width="0.5"/>
<circle cx="412.6" cy="183.3" r="2" fill="#800080" stroke="#4a004a" stroke-width="0.5"/>
<circle cx="414.4" cy="200.8" r="2" fill="#800080" stroke="#4a004a" stroke-width="0.5"/>
<circle cx="416.8" cy="190.6" r="2" fill="#f00000" stroke="#a00000" stroke-width="0.5"/>
<circle cx="418.2" cy="188.6" r="2" fill="#800080" stroke="#4a004a" stroke-width="0.5"/>
<circle cx="421.4" cy="175.5" r="2" fill="#0000f0" stroke="#000090" stroke-width="0.5"/>
<circle cx="429.8" cy="183.5" r="2" fill="#f00000" stroke="#a00000" stroke-width="0.5"/>
<circle cx="431.6" cy="182.6" r="2" fill="#f00000" stroke="#a00000" stroke-width="0.5"/>
<circle cx="429.5" cy="191.7" r="2" fill="#f00000" stroke="#a00000" stroke-width="0.5"/>
<circle cx="447.6" cy="170.5" r="2" fill="#800080" stroke="#4a004a" stroke-width="0.5"/>
<circle cx="447.5" cy="183.2" r="2" fill="#800080" stroke="#4a004a" stroke-width="0.5"/>
<circle cx="457.8" cy="166" r="2" fill="#800080" stroke="#4a004a" stroke-width="0.5"/>
<circle cx="457.5" cy="170.3" r="2" fill="#800080" stroke="#4a004a" stroke-width="0.5"/>
<circle cx="457.9" cy="188.1" r="2" fill="#f00000" stroke="#a00000" stroke-width="0.5"/>
<circle cx="465.6" cy="184" r="2" fill="#f00000" stroke="#a00000" stroke-width="0.5"/>
<circle cx="465" cy="155.9" r="2" fill="#0000f0" stroke="#000090" stroke-width="0.5"/>
<circle cx="468.5" cy="169.2" r="2" fill="#800080" stroke="#4a004a" stroke-width="0.5"/>
<circle cx="473" cy="155.9" r="2" fill="#800080" stroke="#4a004a" stroke-width="0.5"/>
<circle cx="479.7" cy="151.6" r="2" fill="#800080" stroke="#4a004a" stroke-width="0.5"/>
<circle cx="484" cy="173.5" r="2" fill="#f00000" stroke="#a00000" stroke-width="0.5"/>
<circle cx="486.6" cy="153.7" r="2" fill="#800080" stroke="#4a004a" stroke-width="0.5"/>
<circle cx="486.6" cy="156.9" r="2" fill="#800080" stroke="#4a004a" stroke-width="0.5"/>
<circle cx="489.3" cy="152.1" r="2" fill="#0000f0" stroke="#000090" stroke-width="0.5"/>
<circle cx="487" cy="170.3" r="2" fill="#800080" stroke="#4a004a" stroke-width="0.5"/>
<circle cx="493.6" cy="180.8" r="2" fill="#800080" stroke="#4a004a" stroke-width="0.5"/>
<circle cx="467.4" cy="132.8" r="2" fill="#0000f0" stroke="#000090" stroke-width="0.5"/>
<circle cx="466.2" cy="140.3" r="2" fill="#b0103a" stroke="#600020" stroke-width="0.5"/>
<circle cx="484.5" cy="143.2" r="2" fill="#800080" stroke="#4a004a" stroke-width="0.5"/>
<circle cx="487.4" cy="140.3" r="2" fill="#800080" stroke="#4a004a" stroke-width="0.5"/>
<circle cx="487" cy="149.3" r="2" fill="#b0103a" stroke="#600020" stroke-width="0.5"/>
<circle cx="496.9" cy="133.5" r="2" fill="#800080" stroke="#4a004a" stroke-width="0.5"/>
<circle cx="506.8" cy="130.7" r="2" fill="#800080" stroke="#4a004a" stroke-width="0.5"/>
<circle cx="503.9" cy="143.7" r="2" fill="#800080" stroke="#4a004a" stroke-width="0.5"/>
<circle cx="513.7" cy="129.8" r="2" fill="#f00000" stroke="#a00000" stroke-width="0.5"/>
<circle cx="514" cy="137.6" r="2" fill="#f00000" stroke="#a00000" stroke-width="0.5"/>
<circle cx="537.4" cy="120.5" r="2" fill="#0000f0" stroke="#000090" stroke-width="0.5"/>
<circle cx="548.1" cy="120" r="2" fill="#800080" stroke="#4a004a" stroke-width="0.5"/>
<circle cx="552" cy="136.8" r="2" fill="#f00000" stroke="#a00000" stroke-width="0.5"/>
<circle cx="526.5" cy="154.8" r="2" fill="#f00000" stroke="#a00000" stroke-width="0.5"/>
<circle cx="530" cy="155.9" r="2" fill="#800080" stroke="#4a004a" stroke-width="0.5"/>
<circle cx="532.6" cy="160.7" r="2" fill="#f00000" stroke="#a00000" stroke-width="0.5"/>
<circle cx="508.7" cy="114.7" r="2" fill="#800080" stroke="#4a004a" stroke-width="0.5"/>
<circle cx="523.9" cy="107.1" r="2" fill="#800080" stroke="#4a004a" stroke-width="0.5"/>
<circle cx="523" cy="112.9" r="2" fill="#0000f0" stroke="#000090" stroke-width="0.5"/>
<circle cx="523.6" cy="116.1" r="2" fill="#800080" stroke="#4a004a" stroke-width="0.5"/>
<circle cx="532.4" cy="114.7" r="2" fill="#f00000" stroke="#a00000" stroke-width="0.5"/>
<circle cx="537.4" cy="106.5" r="2" fill="#f00000" stroke="#a00000" stroke-width="0.5"/>
<circle cx="542.8" cy="108.3" r="2" fill="#800080" stroke="#4a004a" stroke-width="0.5"/>
<circle cx="541" cy="118.3" r="2" fill="#f00000" stroke="#a00000" stroke-width="0.5"/>
<circle cx="544.9" cy="100.7" r="2" fill="#800080" stroke="#4a004a" stroke-width="0.5"/>
<circle cx="547.6" cy="103" r="2" fill="#800080" stroke="#4a004a" stroke-width="0.5"/>
<circle cx="547.6" cy="118.6" r="2" fill="#800080" stroke="#4a004a" stroke-width="0.5"/>
<circle cx="558.8" cy="92.1" r="2" fill="#f00000" stroke="#a00000" stroke-width="0.5"/>
<circle cx="518.8" cy="87.9" r="2" fill="#800080" stroke="#4a004a" stroke-width="0.5"/>
<circle cx="534.2" cy="79.2" r="2" fill="#800080" stroke="#4a004a" stroke-width="0.5"/>
<circle cx="535.3" cy="81.3" r="2" fill="#800080" stroke="#4a004a" stroke-width="0.5"/>
<circle cx="550" cy="67.7" r="2" fill="#f00000" stroke="#a00000" stroke-width="0.5"/>
<circle cx="559.3" cy="71.7" r="2" fill="#f00000" stroke="#a00000" stroke-width="0.5"/>
<circle cx="564.1" cy="70.7" r="2" fill="#800080" stroke="#4a004a" stroke-width="0.5"/>
<circle cx="566.9" cy="101.5" r="2" fill="#800080" stroke="#4a004a" stroke-width="0.5"/>
<circle cx="572.8" cy="113.7" r="2" fill="#800080" stroke="#4a004a" stroke-width="0.5"/>
<circle cx="577.1" cy="90.5" r="2" fill="#0000f0" stroke="#000090" stroke-width="0.5"/>
<circle cx="582.4" cy="79.4" r="2" fill="#0000f0" stroke="#000090" stroke-width="0.5"/>
<circle cx="590.4" cy="79.7" r="2" fill="#0000f0" stroke="#000090" stroke-width="0.5"/>
<circle cx="597.5" cy="114.5" r="2" fill="#f00000" stroke="#a00000" stroke-width="0.5"/>
<circle cx="608" cy="57.7" r="2" fill="#0000f0" stroke="#000090" stroke-width="0.5"/>
<circle cx="609" cy="84.7" r="2" fill="#f00000" stroke="#a00000" stroke-width="0.5"/>
<circle cx="338.8" cy="246.4" r="2" fill="#f00000" stroke="#a00000" stroke-width="0.5"/>
<circle cx="339.8" cy="248.2" r="2" fill="#b0103a" stroke="#600020" stroke-width="0.5"/>
<circle cx="348.1" cy="245" r="2" fill="#b0103a" stroke="#600020" stroke-width="0.5"/>
<circle cx="357" cy="248" r="2" fill="#800080" stroke="#4a004a" stroke-width="0.5"/>
<circle cx="357.2" cy="255.1" r="2" fill="#0000f0" stroke="#000090" stroke-width="0.5"/>
<circle cx="363.4" cy="243" r="2" fill="#0000f0" stroke="#000090" stroke-width="0.5"/>
<circle cx="368.2" cy="249.9" r="2" fill="#f00000" stroke="#a00000" stroke-width="0.5"/>
<circle cx="366.2" cy="251.5" r="2" fill="#f00000" stroke="#a00000" stroke-width="0.5"/>
<circle cx="457.9" cy="250.9" r="2" fill="#f00000" stroke="#a00000" stroke-width="0.5"/>
<circle cx="465" cy="251.1" r="2" fill="#800080" stroke="#4a004a" stroke-width="0.5"/>
<circle cx="484.4" cy="254.1" r="2" fill="#f00000" stroke="#a00000" stroke-width="0.5"/>
<circle cx="558.5" cy="256.6" r="2" fill="#f00000" stroke="#a00000" stroke-width="0.5"/>
</g>
<g>
<circle cx="62.65" cy="241.1" r="1.95" stroke="#1a1a1a" fill="#f4f4f4" stroke-width="0.9"/>
<circle cx="87.6" cy="239.7" r="1.95" stroke="#1a1a1a" fill="#f4f4f4" stroke-width="0.9"/>
<circle cx="112.55" cy="238.6" r="1.95" stroke="#1a1a1a" fill="#f4f4f4" stroke-width="0.9"/>
<circle cx="137.5" cy="237.8" r="1.95" stroke="#1a1a1a" fill="#f4f4f4" stroke-width="0.9"/>
<circle cx="162.45" cy="243" r="1.95" stroke="#1a1a1a" fill="#f4f4f4" stroke-width="0.9"/>
<circle cx="187.4" cy="239.3" r="1.95" stroke="#1a1a1a" fill="#f4f4f4" stroke-width="0.9"/>
<circle cx="212.35" cy="238" r="1.95" stroke="#1a1a1a" fill="#f4f4f4" stroke-width="0.9"/>
<circle cx="237.3" cy="242.2" r="1.95" stroke="#1a1a1a" fill="#f4f4f4" stroke-width="0.9"/>
<circle cx="262.25" cy="238.4" r="1.95" stroke="#1a1a1a" fill="#f4f4f4" stroke-width="0.9"/>
<circle cx="287.2" cy="240.5" r="1.95" stroke="#1a1a1a" fill="#f4f4f4" stroke-width="0.9"/>
<circle cx="312.15" cy="244.7" r="1.95" stroke="#1a1a1a" fill="#f4f4f4" stroke-width="0.9"/>
<circle cx="337.1" cy="244.2" r="1.95" stroke="#1a1a1a" fill="#f4f4f4" stroke-width="0.9"/>
<circle cx="362.05" cy="264.8" r="1.95" stroke="#1a1a1a" fill="#f4f4f4" stroke-width="0.9"/>
<circle cx="327.6" cy="248.3" r="1.5" stroke="#800080" fill="#dcb0dc" stroke-width="1.1"/>
<circle cx="330.4" cy="244.2" r="1.5" stroke="#800080" fill="#dcb0dc" stroke-width="1.1"/>
<circle cx="338.1" cy="250.2" r="1.5" stroke="#b0103a" fill="#e8a0b0" stroke-width="1.1"/>
<circle cx="344.1" cy="244.2" r="1.5" stroke="#800080" fill="#dcb0dc" stroke-width="1.1"/>
<circle cx="350.5" cy="250.7" r="1.5" stroke="#0000f0" fill="#c0c0ff" stroke-width="1.1"/>
<circle cx="354.5" cy="246.2" r="1.5" stroke="#800080" fill="#dcb0dc" stroke-width="1.1"/>
<circle cx="355.8" cy="251.9" r="1.5" stroke="#f00000" fill="#ffc0c0" stroke-width="1.1"/>
<circle cx="360.6" cy="248.7" r="1.5" stroke="#800080" fill="#dcb0dc" stroke-width="1.1"/>
<circle cx="362.6" cy="249" r="1.5" stroke="#800080" fill="#dcb0dc" stroke-width="1.1"/>
<circle cx="362.6" cy="253.1" r="1.5" stroke="#800080" fill="#dcb0dc" stroke-width="1.1"/>
<circle cx="368.6" cy="243" r="1.5" stroke="#f00000" fill="#ffc0c0" stroke-width="1.1"/>
<circle cx="382.9" cy="249.9" r="1.5" stroke="#f00000" fill="#ffc0c0" stroke-width="1.1"/>
<circle cx="388.3" cy="249.9" r="1.5" stroke="#800080" fill="#dcb0dc" stroke-width="1.1"/>
<circle cx="391.1" cy="253.5" r="1.5" stroke="#0000f0" fill="#c0c0ff" stroke-width="1.1"/>
<circle cx="393.7" cy="248.8" r="1.5" stroke="#800080" fill="#dcb0dc" stroke-width="1.1"/>
<circle cx="401.1" cy="248.7" r="1.5" stroke="#f00000" fill="#ffc0c0" stroke-width="1.1"/>
<circle cx="400.7" cy="252" r="1.5" stroke="#0000f0" fill="#c0c0ff" stroke-width="1.1"/>
<circle cx="412.8" cy="248.3" r="1.5" stroke="#800080" fill="#dcb0dc" stroke-width="1.1"/>
<circle cx="414.4" cy="253.1" r="1.5" stroke="#800080" fill="#dcb0dc" stroke-width="1.1"/>
<circle cx="416" cy="251.9" r="1.5" stroke="#f00000" fill="#ffc0c0" stroke-width="1.1"/>
<circle cx="418" cy="247.9" r="1.5" stroke="#f00000" fill="#ffc0c0" stroke-width="1.1"/>
<circle cx="421.6" cy="250.3" r="1.5" stroke="#0000f0" fill="#c0c0ff" stroke-width="1.1"/>
<circle cx="429.2" cy="251.5" r="1.5" stroke="#f00000" fill="#ffc0c0" stroke-width="1.1"/>
<circle cx="431.6" cy="247.9" r="1.5" stroke="#f00000" fill="#ffc0c0" stroke-width="1.1"/>
<circle cx="447.3" cy="248.7" r="1.5" stroke="#800080" fill="#dcb0dc" stroke-width="1.1"/>
<circle cx="447.3" cy="251.5" r="1.5" stroke="#800080" fill="#dcb0dc" stroke-width="1.1"/>
<circle cx="466.6" cy="251.5" r="1.5" stroke="#0000f0" fill="#c0c0ff" stroke-width="1.1"/>
<circle cx="467.4" cy="254.7" r="1.5" stroke="#0000f0" fill="#c0c0ff" stroke-width="1.1"/>
<circle cx="473" cy="252.7" r="1.5" stroke="#800080" fill="#dcb0dc" stroke-width="1.1"/>
<circle cx="479.4" cy="253.6" r="1.5" stroke="#800080" fill="#dcb0dc" stroke-width="1.1"/>
<circle cx="482.6" cy="253.1" r="1.5" stroke="#f00000" fill="#ffc0c0" stroke-width="1.1"/>
<circle cx="486.4" cy="251.9" r="1.5" stroke="#800080" fill="#dcb0dc" stroke-width="1.1"/>
<circle cx="488.8" cy="250.3" r="1.5" stroke="#0000f0" fill="#c0c0ff" stroke-width="1.1"/>
<circle cx="493.7" cy="249.9" r="1.5" stroke="#800080" fill="#dcb0dc" stroke-width="1.1"/>
<circle cx="496.9" cy="255.1" r="1.5" stroke="#800080" fill="#dcb0dc" stroke-width="1.1"/>
<circle cx="503.7" cy="254.7" r="1.5" stroke="#800080" fill="#dcb0dc" stroke-width="1.1"/>
<circle cx="506.5" cy="254.7" r="1.5" stroke="#800080" fill="#dcb0dc" stroke-width="1.1"/>
<circle cx="508.5" cy="254.7" r="1.5" stroke="#800080" fill="#dcb0dc" stroke-width="1.1"/>
<circle cx="513.3" cy="253.9" r="1.5" stroke="#f00000" fill="#ffc0c0" stroke-width="1.1"/>
<circle cx="519" cy="259.1" r="1.5" stroke="#800080" fill="#dcb0dc" stroke-width="1.1"/>
<circle cx="522.6" cy="252.7" r="1.5" stroke="#0000f0" fill="#c0c0ff" stroke-width="1.1"/>
<circle cx="528.2" cy="251.1" r="1.5" stroke="#800080" fill="#dcb0dc" stroke-width="1.1"/>
<circle cx="529.8" cy="250.3" r="1.5" stroke="#f00000" fill="#ffc0c0" stroke-width="1.1"/>
<circle cx="531.4" cy="254.3" r="1.5" stroke="#f00000" fill="#ffc0c0" stroke-width="1.1"/>
<circle cx="533.8" cy="254.3" r="1.5" stroke="#f00000" fill="#ffc0c0" stroke-width="1.1"/>
<circle cx="530" cy="250.7" r="1.5" stroke="#800080" fill="#dcb0dc" stroke-width="1.1"/>
<circle cx="532.6" cy="253.7" r="1.5" stroke="#f00000" fill="#ffc0c0" stroke-width="1.1"/>
<circle cx="537.6" cy="252.8" r="1.5" stroke="#f00000" fill="#ffc0c0" stroke-width="1.1"/>
<circle cx="540.6" cy="251.7" r="1.5" stroke="#f00000" fill="#ffc0c0" stroke-width="1.1"/>
<circle cx="537" cy="257.3" r="1.5" stroke="#0000f0" fill="#c0c0ff" stroke-width="1.1"/>
<circle cx="534.4" cy="259.9" r="1.5" stroke="#800080" fill="#dcb0dc" stroke-width="1.1"/>
<circle cx="542.2" cy="258.7" r="1.5" stroke="#800080" fill="#dcb0dc" stroke-width="1.1"/>
<circle cx="545.3" cy="259.1" r="1.5" stroke="#800080" fill="#dcb0dc" stroke-width="1.1"/>
<circle cx="547.7" cy="253.5" r="1.5" stroke="#800080" fill="#dcb0dc" stroke-width="1.1"/>
<circle cx="547.3" cy="255.9" r="1.5" stroke="#800080" fill="#dcb0dc" stroke-width="1.1"/>
<circle cx="551.9" cy="254.8" r="1.5" stroke="#f00000" fill="#ffc0c0" stroke-width="1.1"/>
<circle cx="549.7" cy="260.3" r="1.5" stroke="#f00000" fill="#ffc0c0" stroke-width="1.1"/>
<circle cx="567" cy="254.5" r="1.5" stroke="#800080" fill="#dcb0dc" stroke-width="1.1"/>
<circle cx="563.7" cy="259.9" r="1.5" stroke="#800080" fill="#dcb0dc" stroke-width="1.1"/>
<circle cx="572.4" cy="258.3" r="1.5" stroke="#800080" fill="#dcb0dc" stroke-width="1.1"/>
<circle cx="577.4" cy="257.9" r="1.5" stroke="#0000f0" fill="#c0c0ff" stroke-width="1.1"/>
<circle cx="582.3" cy="258.9" r="1.5" stroke="#0000f0" fill="#c0c0ff" stroke-width="1.1"/>
<circle cx="590.3" cy="259.1" r="1.5" stroke="#0000f0" fill="#c0c0ff" stroke-width="1.1"/>
<circle cx="597.5" cy="253.7" r="1.5" stroke="#f00000" fill="#ffc0c0" stroke-width="1.1"/>
<circle cx="608.9" cy="256.6" r="1.5" stroke="#f00000" fill="#ffc0c0" stroke-width="1.1"/>
<circle cx="607.7" cy="259.5" r="1.5" stroke="#0000f0" fill="#c0c0ff" stroke-width="1.1"/>
</g>
<rect x="41.5" y="6.5" width="632.0" height="277.0" fill="none" stroke="#444" stroke-width="1"/>
<g stroke="#666" stroke-width="1"><line x1="41.5" y1="283.5" x2="41.5" y2="280.0"/><line x1="41.5" y1="6.5" x2="41.5" y2="10.0"/><line x1="120.5" y1="283.5" x2="120.5" y2="280.0"/><line x1="120.5" y1="6.5" x2="120.5" y2="10.0"/><line x1="199.5" y1="283.5" x2="199.5" y2="280.0"/><line x1="199.5" y1="6.5" x2="199.5" y2="10.0"/><line x1="278.5" y1="283.5" x2="278.5" y2="280.0"/><line x1="278.5" y1="6.5" x2="278.5" y2="10.0"/><line x1="357.5" y1="283.5" x2="357.5" y2="280.0"/><line x1="357.5" y1="6.5" x2="357.5" y2="10.0"/><line x1="436.5" y1="283.5" x2="436.5" y2="280.0"/><line x1="436.5" y1="6.5" x2="436.5" y2="10.0"/><line x1="515.5" y1="283.5" x2="515.5" y2="280.0"/><line x1="515.5" y1="6.5" x2="515.5" y2="10.0"/><line x1="594.5" y1="283.5" x2="594.5" y2="280.0"/><line x1="594.5" y1="6.5" x2="594.5" y2="10.0"/><line x1="673.5" y1="283.5" x2="673.5" y2="280.0"/><line x1="673.5" y1="6.5" x2="673.5" y2="10.0"/><line x1="41.5" y1="283.5" x2="45.0" y2="283.5"/><line x1="673.5" y1="283.5" x2="670.0" y2="283.5"/><line x1="41.5" y1="243.93" x2="45.0" y2="243.93"/><line x1="673.5" y1="243.93" x2="670.0" y2="243.93"/><line x1="41.5" y1="204.36" x2="45.0" y2="204.36"/><line x1="673.5" y1="204.36" x2="670.0" y2="204.36"/><line x1="41.5" y1="164.79" x2="45.0" y2="164.79"/><line x1="673.5" y1="164.79" x2="670.0" y2="164.79"/><line x1="41.5" y1="125.21" x2="45.0" y2="125.21"/><line x1="673.5" y1="125.21" x2="670.0" y2="125.21"/><line x1="41.5" y1="85.64" x2="45.0" y2="85.64"/><line x1="673.5" y1="85.64" x2="670.0" y2="85.64"/><line x1="41.5" y1="46.07" x2="45.0" y2="46.07"/><line x1="673.5" y1="46.07" x2="670.0" y2="46.07"/><line x1="41.5" y1="6.5" x2="45.0" y2="6.5"/><line x1="673.5" y1="6.5" x2="670.0" y2="6.5"/></g>
<g font-size="10.3" fill="#000" opacity="0.99"><text x="41.3" y="293.9" text-anchor="middle" textLength="29.5" lengthAdjust="spacingAndGlyphs">−0.20</text><text x="120.3" y="293.9" text-anchor="middle" textLength="29.5" lengthAdjust="spacingAndGlyphs">−0.15</text><text x="199.3" y="293.9" text-anchor="middle" textLength="29.5" lengthAdjust="spacingAndGlyphs">−0.10</text><text x="278.3" y="293.9" text-anchor="middle" textLength="29.5" lengthAdjust="spacingAndGlyphs">−0.05</text><text x="357.3" y="293.9" text-anchor="middle" textLength="21.5" lengthAdjust="spacingAndGlyphs">0.00</text><text x="436.3" y="293.9" text-anchor="middle" textLength="21.5" lengthAdjust="spacingAndGlyphs">0.05</text><text x="515.3" y="293.9" text-anchor="middle" textLength="21.5" lengthAdjust="spacingAndGlyphs">0.10</text><text x="594.3" y="293.9" text-anchor="middle" textLength="21.5" lengthAdjust="spacingAndGlyphs">0.15</text><text x="673.3" y="293.9" text-anchor="middle" textLength="21.5" lengthAdjust="spacingAndGlyphs">0.20</text><text x="38.3" y="286.1" text-anchor="end" textLength="21.5" lengthAdjust="spacingAndGlyphs">0.00</text><text x="38.3" y="246.53" text-anchor="end" textLength="21.5" lengthAdjust="spacingAndGlyphs">0.01</text><text x="38.3" y="206.96" text-anchor="end" textLength="21.5" lengthAdjust="spacingAndGlyphs">0.02</text><text x="38.3" y="167.39" text-anchor="end" textLength="21.5" lengthAdjust="spacingAndGlyphs">0.03</text><text x="38.3" y="127.81" text-anchor="end" textLength="21.5" lengthAdjust="spacingAndGlyphs">0.04</text><text x="38.3" y="88.24" text-anchor="end" textLength="21.5" lengthAdjust="spacingAndGlyphs">0.05</text><text x="38.3" y="48.67" text-anchor="end" textLength="21.5" lengthAdjust="spacingAndGlyphs">0.06</text><text x="38.3" y="9.1" text-anchor="end" textLength="21.5" lengthAdjust="spacingAndGlyphs">0.07</text></g>
<text x="10.3" y="145.1" font-size="9.6" text-anchor="middle" textLength="108.5" lengthAdjust="spacingAndGlyphs" transform="rotate(-90 10.3 145.1)">transfer entropy (bits)</text>
<path d="M356.3,300.5 L360.9,310.7 M359.0,306.4 L354.1,310.6" stroke="#111" stroke-width="1.1" fill="none"/><!-- 357.5 311.6 14 -->
</svg>
</body></html>
